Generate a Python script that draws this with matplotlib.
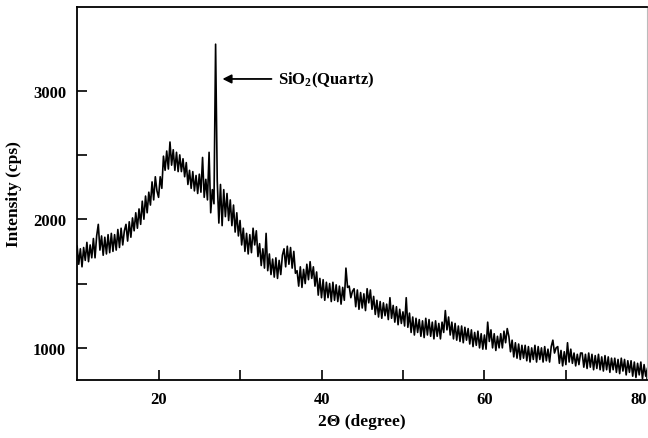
import numpy as np
import matplotlib
matplotlib.use("Agg")
import matplotlib.pyplot as plt
from matplotlib.ticker import FixedLocator

# 2-theta axis: 10..80 deg in 0.2 deg steps
TWO_THETA_START = 10.0
TWO_THETA_STEP = 0.2

# Intensity (cps), one row per degree (x.0, x.2, x.4, x.6, x.8)
intensity = [
    1790, 1650, 1770, 1630, 1780,   # 10
    1680, 1820, 1670, 1800, 1700,   # 11
    1850, 1700, 1870, 1960, 1760,   # 12
    1870, 1720, 1860, 1730, 1880,   # 13
    1740, 1890, 1750, 1880, 1760,   # 14
    1920, 1780, 1930, 1800, 1910,   # 15
    1960, 1830, 1980, 1860, 2010,   # 16
    1910, 2050, 1930, 2080, 1960,   # 17
    2140, 2000, 2180, 2050, 2210,   # 18
    2110, 2290, 2150, 2330, 2220,   # 19
    2170, 2330, 2240, 2490, 2380,   # 20
    2530, 2390, 2600, 2420, 2540,   # 21
    2380, 2520, 2370, 2500, 2370,   # 22
    2470, 2330, 2440, 2270, 2380,   # 23
    2240, 2370, 2220, 2340, 2200,   # 24
    2350, 2210, 2480, 2170, 2310,   # 25
    2150, 2520, 2050, 2230, 2120,   # 26
    3360, 2300, 1970, 2270, 1950,   # 27 (quartz)
    2230, 2020, 2200, 1990, 2150,   # 28
    1950, 2110, 1900, 2050, 1870,   # 29
    1990, 1800, 1930, 1750, 1890,   # 30
    1730, 1880, 1740, 1930, 1800,   # 31
    1910, 1710, 1810, 1640, 1770,   # 32
    1620, 1890, 1600, 1730, 1570,   # 33
    1690, 1550, 1700, 1540, 1680,   # 34
    1570, 1720, 1770, 1630, 1790,   # 35
    1650, 1780, 1620, 1750, 1580,   # 36
    1600, 1480, 1630, 1470, 1610,   # 37
    1500, 1650, 1530, 1670, 1540,   # 38
    1630, 1480, 1590, 1410, 1540,   # 39
    1390, 1530, 1370, 1510, 1390,   # 40
    1500, 1360, 1510, 1370, 1490,   # 41
    1360, 1480, 1340, 1470, 1370,   # 42
    1620, 1470, 1480, 1390, 1440,   # 43
    1460, 1320, 1450, 1300, 1430,   # 44
    1310, 1420, 1290, 1460, 1350,   # 45
    1450, 1300, 1400, 1260, 1370,   # 46
    1240, 1360, 1230, 1350, 1250,   # 47
    1340, 1220, 1390, 1230, 1330,   # 48
    1200, 1320, 1180, 1300, 1190,   # 49
    1280, 1170, 1390, 1160, 1270,   # 50
    1120, 1240, 1100, 1230, 1120,   # 51
    1220, 1090, 1210, 1080, 1230,   # 52
    1100, 1220, 1090, 1200, 1070,   # 53
    1210, 1090, 1190, 1070, 1200,   # 54
    1120, 1290, 1140, 1240, 1100,   # 55
    1200, 1070, 1190, 1060, 1170,   # 56
    1050, 1170, 1040, 1160, 1060,   # 57
    1150, 1030, 1140, 1010, 1120,   # 58
    1020, 1130, 1000, 1110, 990,    # 59
    1100, 990, 1200, 1050, 1140,    # 60
    1000, 1110, 980, 1090, 1000,    # 61
    1110, 1000, 1130, 1040, 1150,   # 62
    1090, 970, 1060, 930, 1040,     # 63
    920, 1030, 910, 1020, 920,      # 64
    1020, 900, 1010, 890, 1000,     # 65
    910, 1020, 890, 1010, 910,      # 66
    1000, 890, 1010, 900, 990,      # 67
    890, 1010, 1060, 960, 1000,     # 68
    1010, 880, 980, 860, 970,       # 69
    870, 1040, 890, 990, 880,       # 70
    960, 860, 950, 870, 960,        # 71
    960, 850, 950, 840, 960,        # 72
    850, 950, 830, 940, 840,        # 73
    950, 830, 930, 820, 940,        # 74
    830, 930, 810, 920, 830,        # 75
    920, 810, 910, 800, 920,        # 76
    820, 910, 790, 900, 810,        # 77
    900, 780, 890, 770, 880,        # 78
    790, 890, 760, 870, 780,        # 79
    840,                            # 80
]
two_theta = TWO_THETA_START + TWO_THETA_STEP * np.arange(len(intensity))

x_major = [20, 40, 60, 80]
x_minor = [30, 50, 70]
y_major = [1000, 2000, 3000]
y_minor = [1500, 2500]

plt.rcParams.update({
    "font.family": "Liberation Serif",
    "font.weight": "bold",
    "mathtext.fontset": "custom",
    "mathtext.rm": "Liberation Serif:bold",
    "mathtext.it": "Liberation Serif:bold",
    "mathtext.bf": "Liberation Serif:bold",
})

fig = plt.figure(figsize=(6.48, 4.39), dpi=100)
ax = fig.add_axes([0.119, 0.132, 0.88, 0.850])

ax.plot(two_theta, intensity, color="black", linewidth=1.2)

ax.set_xlim(10, 80)
ax.set_ylim(750, 3650)
ax.xaxis.set_major_locator(FixedLocator(x_major))
ax.xaxis.set_minor_locator(FixedLocator(x_minor))
ax.yaxis.set_major_locator(FixedLocator(y_major))
ax.yaxis.set_minor_locator(FixedLocator(y_minor))
ax.tick_params(which="both", direction="in", length=7, width=1.2, labelsize=12, pad=8)
ax.tick_params(axis="x", which="both", top=False)
ax.tick_params(axis="y", which="both", right=False)

# last x label sits flush against the right edge, as in the original
fig.canvas.draw()
ax.get_xticklabels()[-1].set_horizontalalignment("right")

for side in ["left", "bottom", "top"]:
    ax.spines[side].set_linewidth(1.3)
ax.spines["right"].set_linewidth(0.8)
ax.spines["right"].set_color("#bbbbbb")

ax.set_xlabel("2\u0398 (degree)", fontsize=12.5, fontweight="bold", labelpad=4)
ax.set_ylabel("Intensity (cps)", fontsize=12.5, fontweight="bold", labelpad=8)

ax.annotate("", xy=(27.5, 3090), xytext=(34.2, 3090),
            arrowprops=dict(arrowstyle="-|>", color="black", lw=1.3, mutation_scale=13))
ax.text(34.7, 3090, "SiO$_2$(Quartz)", fontsize=12, fontweight="bold", va="center", ha="left")

fig.savefig("out.png", dpi=100, facecolor="white")
